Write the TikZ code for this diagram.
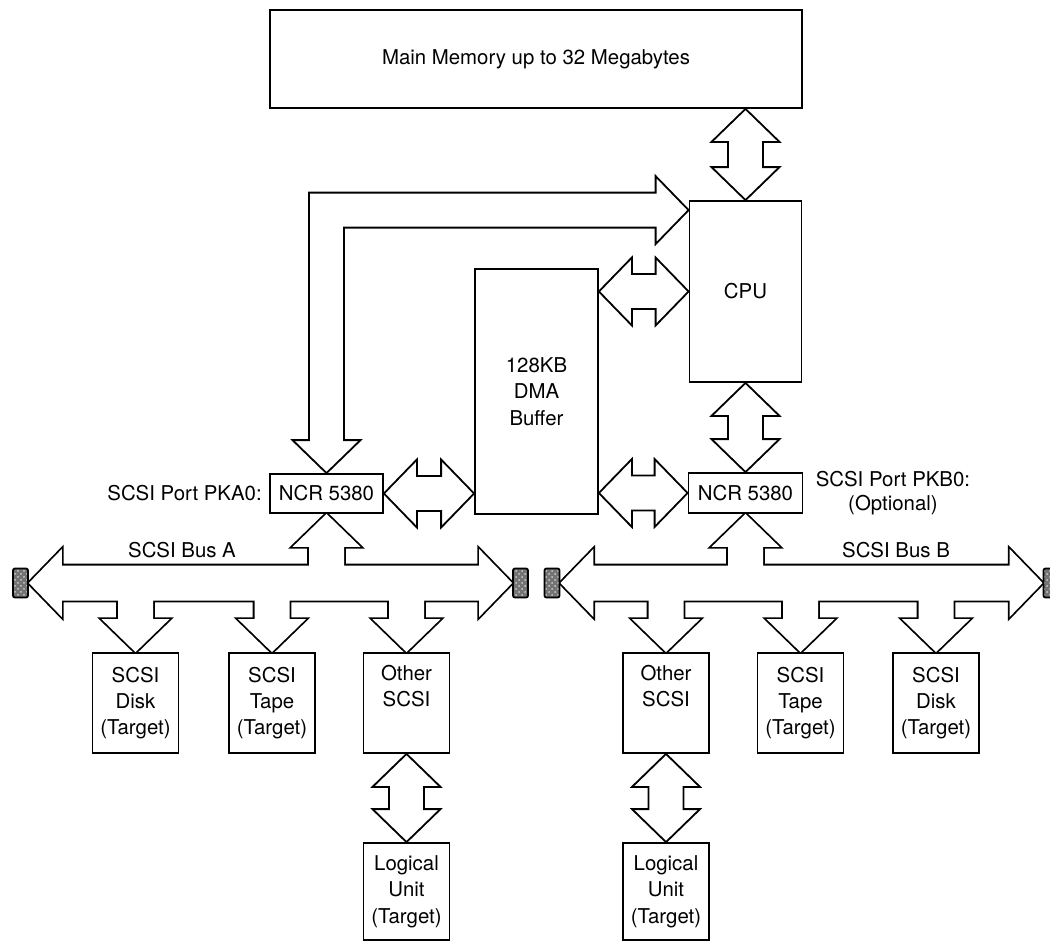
\documentclass[tikz,border=0pt]{standalone}
\usepackage{fontspec}
\setmainfont{TeX Gyre Heros}
\usetikzlibrary{positioning,calc,backgrounds,patterns}

% block arrows: shaft half width 8.75pt, head half width 17pt, head length 16.5pt
\newcommand{\vdbl}[3][]{%
  \path[#1] let \p1=(#2), \p2=(#3) in
    (\x1,\y1) -- (\x1+17pt,\y1-16.5pt) -- (\x1+8.75pt,\y1-16.5pt)
    -- (\x1+8.75pt,\y2+16.5pt) -- (\x1+17pt,\y2+16.5pt) -- (\x1,\y2)
    -- (\x1-17pt,\y2+16.5pt) -- (\x1-8.75pt,\y2+16.5pt)
    -- (\x1-8.75pt,\y1-16.5pt) -- (\x1-17pt,\y1-16.5pt) -- cycle;}
\newcommand{\hdbl}[3][]{%
  \path[#1] let \p1=(#2), \p2=(#3) in
    (\x1,\y1) -- (\x1+16.5pt,\y1+17pt) -- (\x1+16.5pt,\y1+8.75pt)
    -- (\x2-16.5pt,\y1+8.75pt) -- (\x2-16.5pt,\y1+17pt) -- (\x2,\y1)
    -- (\x2-16.5pt,\y1-17pt) -- (\x2-16.5pt,\y1-8.75pt)
    -- (\x1+16.5pt,\y1-8.75pt) -- (\x1+16.5pt,\y1-17pt) -- cycle;}
\newcommand{\tap}[3][]{%
  \path[#1] let \p1=(#2), \p2=(#3), \p3=($(#3)!16.5pt!(#3 |- #2)$) in
    (\x2-8.75pt,\y1) -- (\x2-8.75pt,\y3) -- (\x2-17pt,\y3) -- (\x2,\y2)
    -- (\x2+17pt,\y3) -- (\x2+8.75pt,\y3) -- (\x2+8.75pt,\y1) -- cycle;}
\newcommand{\bend}[3][]{%
  \path[#1] let \p1=(#2), \p2=(#3) in
    (\x1,\y1) -- (\x1-17pt,\y1+16.5pt) -- (\x1-8.75pt,\y1+16.5pt)
    -- (\x1-8.75pt,\y2+8.75pt) -- (\x2-16.5pt,\y2+8.75pt) -- (\x2-16.5pt,\y2+17pt)
    -- (\x2,\y2) -- (\x2-16.5pt,\y2-17pt) -- (\x2-16.5pt,\y2-8.75pt)
    -- (\x1+8.75pt,\y2-8.75pt) -- (\x1+8.75pt,\y1+16.5pt) -- (\x1+17pt,\y1+16.5pt) -- cycle;}

\begin{document}
\begin{tikzpicture}[x=0.5pt,y=-0.5pt,
  font=\fontsize{10.2}{13.2}\selectfont,
  box/.style={draw,line width=0.9pt,fill=white,inner sep=0pt,align=center},
  dev/.style={box,minimum width=43pt,minimum height=50pt},
  lbl/.style={inner sep=0pt,align=center,font=\fontsize{10.2}{12}\selectfont},
  term/.style={draw,line width=0.9pt,preaction={fill=black!55},pattern=crosshatch dots,pattern color=black!20,rounded corners=1pt,inner sep=0pt,minimum width=7.5pt,minimum height=14.5pt},
  fat/.style={draw,fill=white,line width=0.9pt},
  busline/.style={draw,line width=1.8pt},
  busfill/.style={fill=white}]
  \useasboundingbox (0,0) rectangle (1050,943);
  \node[box,minimum width=266pt,minimum height=49pt] (mem) at (536,59) {Main Memory up to 32 Megabytes};
  \node[box,minimum width=56pt,minimum height=90.5pt] (cpu) at (745.5,291.5) {CPU};
  \node[box,minimum width=61.5pt,minimum height=122.5pt] (dma) at (536.5,391.5) {128KB\\DMA\\Buffer};
  \node[box,minimum width=56.5pt,minimum height=19.5pt] (ncrA) at (326.5,493.5) {NCR 5380};
  \node[box,minimum width=57pt,minimum height=20pt] (ncrB) at (745.5,493) {NCR 5380};
  \node[dev] (diskA) at (135.5,703) {SCSI\\Disk\\(Target)};
  \node[dev] (tapeA) at (272,703) {SCSI\\Tape\\(Target)};
  \node[dev] (otherA) at (406.5,703) {Other\\SCSI\\\strut};
  \node[dev] (otherB) at (666,703) {Other\\SCSI\\\strut};
  \node[dev] (tapeB) at (800.5,703) {SCSI\\Tape\\(Target)};
  \node[dev] (diskB) at (936,703) {SCSI\\Disk\\(Target)};
  \node[dev,minimum height=48.5pt] (luA) at (406.5,891.5) {Logical\\Unit\\(Target)};
  \node[dev,minimum height=48.5pt] (luB) at (666,891.5) {Logical\\Unit\\(Target)};
  \node[term] (t1) at (20.5,583) {};
  \node[term] (t2) at (520.5,583) {};
  \node[term] (t3) at (552,583) {};
  \node[term] (t4) at (1051,583) {};
  \node[lbl,left=3.5pt of ncrA] (portA) {SCSI Port PKA0:};
  \node[lbl,right=6pt of ncrB] (portB) {SCSI Port PKB0:\\(Optional)};
  \node[lbl] (busA) at (182,550) {SCSI Bus A};
  \node[lbl] (busB) at (896,550) {SCSI Bus B};
  \coordinate (cpuin) at ([yshift=-5pt]cpu.north west);
  \begin{scope}[on background layer]
    \vdbl[fat]{cpu.north |- mem.south}{cpu.north}
    \vdbl[fat]{ncrB.north |- cpu.south}{ncrB.north}
    \hdbl[fat]{dma.east |- cpu.west}{cpu.west}
    \hdbl[fat]{ncrA.east}{dma.west |- ncrA.east}
    \hdbl[fat]{dma.east |- ncrB.west}{ncrB.west}
    \bend[fat]{ncrA.north}{cpuin}
    \vdbl[fat]{otherA.south}{luA.north}
    \vdbl[fat]{otherB.south}{luB.north}
    % buses: wide stroke first, then white fill over all pieces
    \foreach \pass in {busline,busfill} {
      \hdbl[\pass]{t1.east}{t2.west}
      \tap[\pass]{t1}{ncrA.south}
      \tap[\pass]{t1}{diskA.north}
      \tap[\pass]{t1}{tapeA.north}
      \tap[\pass]{t1}{otherA.north}
      \hdbl[\pass]{t3.east}{t4.west}
      \tap[\pass]{t3}{ncrB.south}
      \tap[\pass]{t3}{otherB.north}
      \tap[\pass]{t3}{tapeB.north}
      \tap[\pass]{t3}{diskB.north}
    }
  \end{scope}
\end{tikzpicture}
\end{document}
